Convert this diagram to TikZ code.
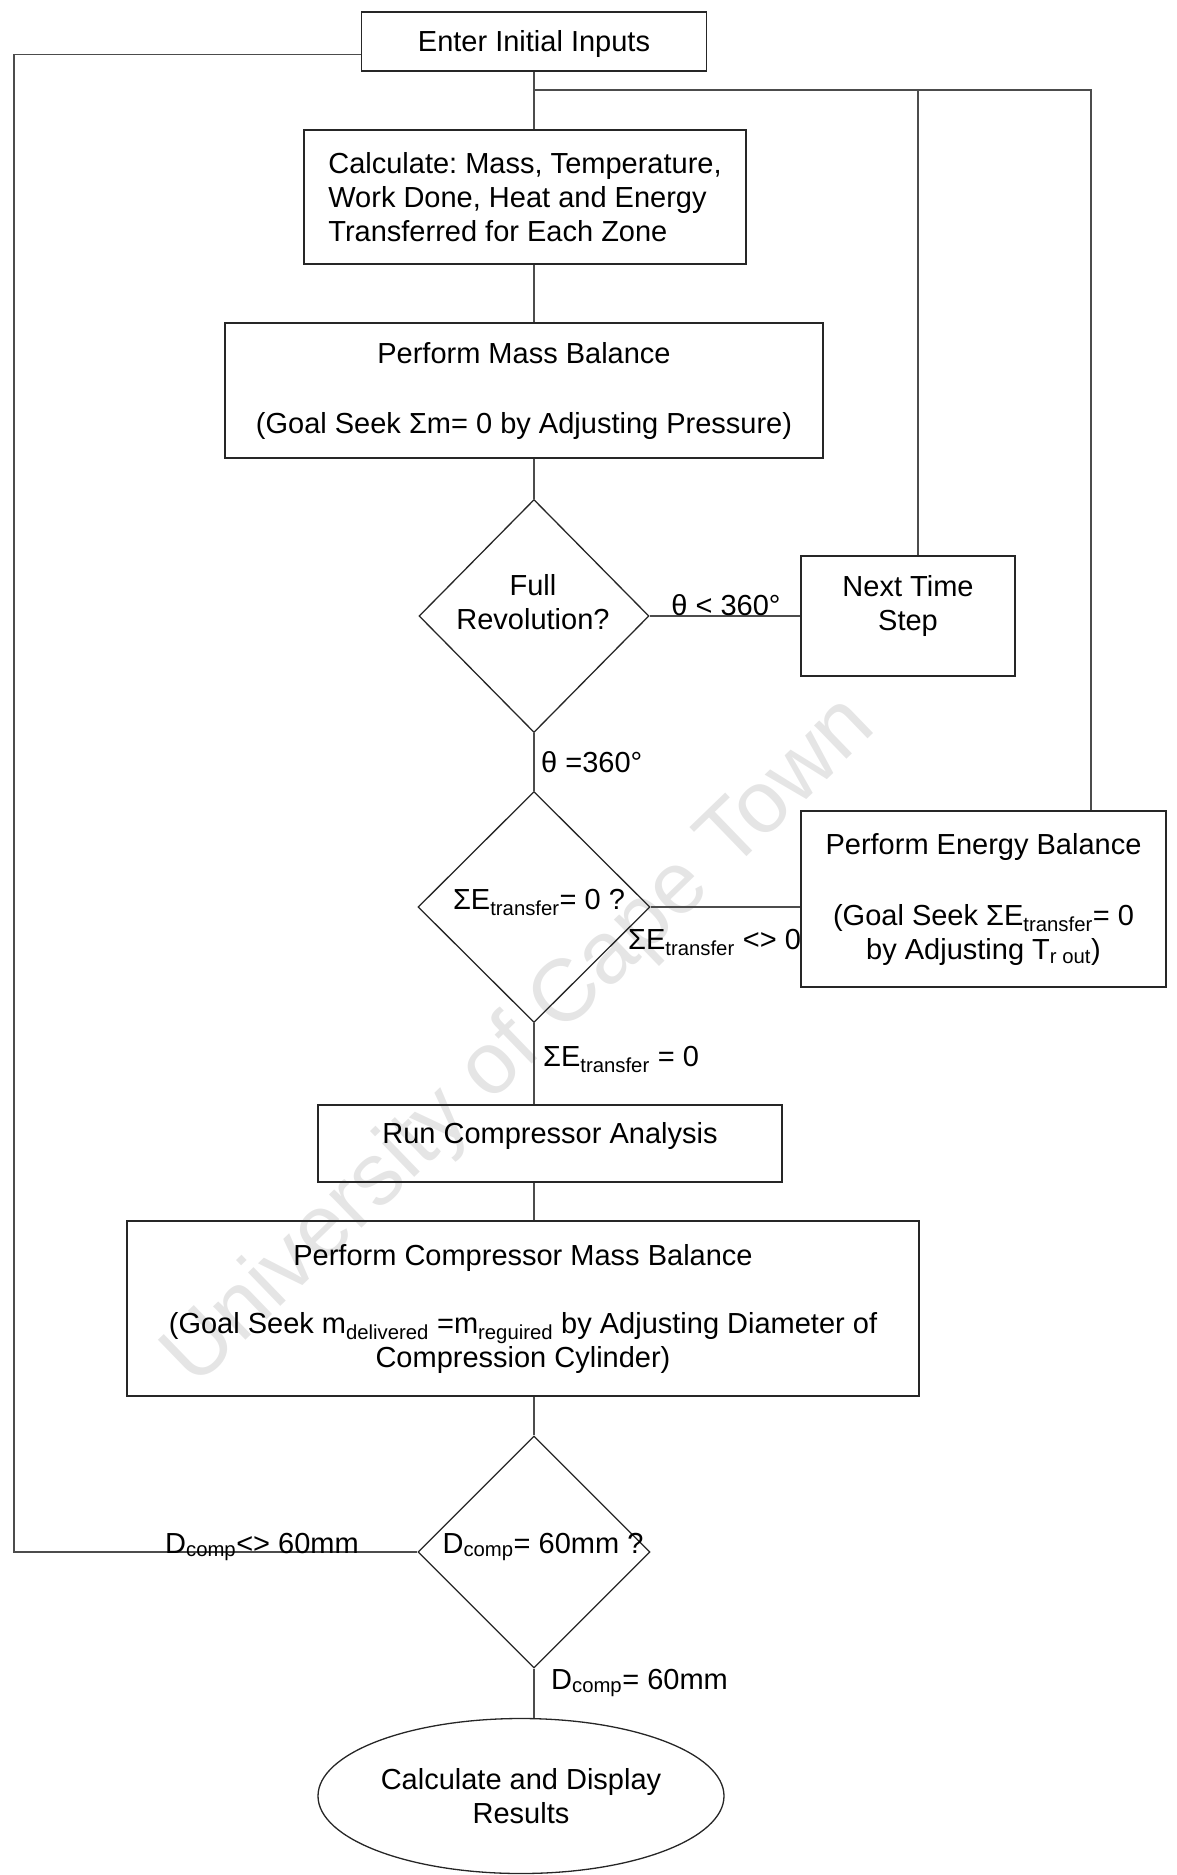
\documentclass[tikz,border=0pt]{standalone}
\usepackage{fontspec}
\setmainfont{Liberation Sans}
\usetikzlibrary{shapes.geometric,calc}
\frenchspacing
\begin{document}
\begin{tikzpicture}[x=1pt,y=-1pt,
  every node/.style={font=\fontsize{29}{34}\selectfont},
  box/.style={draw=black!85, line width=1.6pt, inner sep=0pt, align=center},
  dec/.style={draw=black!85, diamond, line width=1.3pt, inner sep=0pt},
  txt/.style={inner sep=0pt, align=center},
  lbl/.style={inner sep=0pt, anchor=base west},
  conn/.style={draw=black!70, line width=1.3pt},
]
\useasboundingbox (0,0) rectangle (1177,1875);

% watermark
\node[rotate=44, text=black!10, inner sep=0pt, font=\fontsize{88}{88}\selectfont] (wm) at (521,1043) {University of Cape Town};

% nodes
\node[box, minimum width=345pt, minimum height=59pt, text height=20pt, text depth=0pt] (init) at (534,41.5) {Enter Initial Inputs};
\node[box, align=left, minimum width=442pt, minimum height=134pt] (calc) at (525,197) {Calculate: Mass, Temperature,\\Work Done, Heat and Energy\\Transferred for Each Zone};
\node[box, minimum width=598pt, minimum height=135pt] (mass) at (524,390.5) {Perform Mass Balance\\[36pt](Goal Seek Σm= 0 by Adjusting Pressure)};
\node[dec, minimum width=230pt, minimum height=233pt] (d1) at (534,616) {};
\node[txt] (d1t) at (533,602) {Full\\Revolution?};
\node[box, minimum width=214pt, minimum height=120pt] (next) at (908,616) {};
\node[txt] (nextt) at (908,606) {Next Time\\Step};
\node[dec, minimum width=232pt, minimum height=231pt] (d2) at (534,907) {};
\node[txt, anchor=base] (d2t) at (539,909) {ΣE\textsubscript{transfer}= 0 ?};
\node[box, minimum width=365pt, minimum height=176pt] (energy) at (983.5,899) {Perform Energy Balance\\[37pt](Goal Seek ΣE\textsubscript{transfer}= 0\\by Adjusting T\textsubscript{r out})};
\node[box, minimum width=464pt, minimum height=77pt, text height=10pt, text depth=10pt] (run) at (550,1143.5) {Run Compressor Analysis};
\node[box, minimum width=792pt, minimum height=175pt] (cmass) at (523,1308.5) {Perform Compressor Mass Balance\\[34pt](Goal Seek m\textsubscript{delivered} =m\textsubscript{reguired} by Adjusting Diameter of\\Compression Cylinder)};
\node[dec, minimum width=232pt, minimum height=232pt] (d3) at (534,1552) {};
\node[txt, anchor=base] (d3t) at (543,1553) {D\textsubscript{comp}= 60mm ?};
\node[draw=black!85, ellipse, line width=1.3pt, inner sep=0pt, align=center, minimum width=406pt, minimum height=155pt] (ell) at (521,1796) {Calculate and Display\\Results};

% coordinates
\coordinate (J) at (534,90);
\coordinate (R1) at (918,90);
\coordinate (R2) at (1091,90);
\coordinate (LA) at ($(init.south west)!0.29!(init.north west)$);
\coordinate (LX) at (14,0);

% connectors
\draw[conn] (init.south) -- (init.south |- calc.north);
\draw[conn] (J) -- (R2) -- (R2 |- energy.north);
\draw[conn] (R1) -- (R1 |- next.north);
\draw[conn] (init.south |- calc.south) -- (init.south |- mass.north);
\draw[conn] (init.south |- mass.south) -- (d1.north);
\draw[conn] (d1.east) -- (d1.east -| next.west);
\draw[conn] (d1.south) -- (d2.north);
\draw[conn] (d2.east) -- (d2.east -| energy.west);
\draw[conn] (d2.south) -- (d2.south |- run.north);
\draw[conn] (d2.south |- run.south) -- (d2.south |- cmass.north);
\draw[conn] (d3.north |- cmass.south) -- (d3.north);
\draw[conn] (d3.south) -- (d3.south |- ell.north);
\draw[conn] (LA) -| (LX |- d3.west) -- (d3.west);

% labels
\node[inner sep=0pt, anchor=base] (l1) at (726,615) {θ < 360°};
\node[lbl] (l2) at (541,772) {θ =360°};
\node[lbl] (l3) at (628,949) {ΣE\textsubscript{transfer} <> 0};
\node[lbl] (l4) at (543,1066) {ΣE\textsubscript{transfer} = 0};
\node[lbl] (l5) at (165,1553) {D\textsubscript{comp}<> 60mm};
\node[lbl] (l6) at (551,1689) {D\textsubscript{comp}= 60mm};
\end{tikzpicture}
\end{document}
